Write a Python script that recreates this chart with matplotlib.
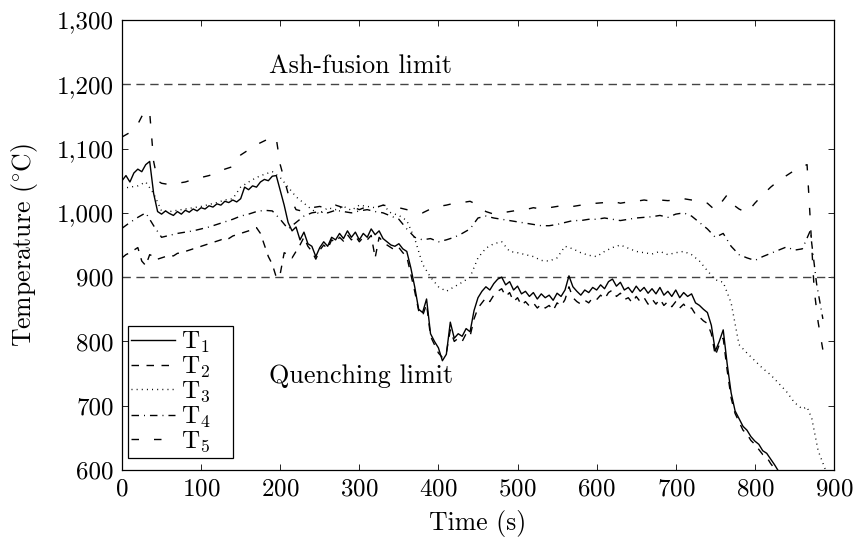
import numpy as np
import matplotlib
matplotlib.use("Agg")
from matplotlib import pyplot as plt
from matplotlib.ticker import FuncFormatter, MultipleLocator

plt.rcParams['font.family'] = ['cmr10', 'DejaVu Serif']
plt.rcParams['mathtext.fontset'] = 'cm'
plt.rcParams['axes.unicode_minus'] = False
plt.rcParams['axes.formatter.use_mathtext'] = True

# time grid for T1 / T2 (s)
t12 = np.arange(0, 840, 5)

T1 = [1050, 1058, 1048, 1062, 1068, 1064, 1075, 1080, 1030, 1002,
      998, 1003, 999, 996, 1002, 998, 1004, 1001, 1006, 1003,
      1008, 1006, 1011, 1009, 1014, 1012, 1018, 1016, 1020, 1017,
      1022, 1040, 1036, 1042, 1040, 1048, 1052, 1050, 1057, 1058,
      1035, 1012, 985, 972, 978, 958, 970, 952, 948, 932,
      946, 955, 948, 962, 958, 968, 960, 972, 962, 970,
      958, 968, 962, 975, 966, 972, 960, 955, 950, 948,
      952, 944, 940, 915, 885, 850, 845, 866, 812, 800,
      790, 770, 780, 830, 805, 812, 808, 820, 815, 848,
      868, 878, 885, 880, 890, 897, 900, 888, 893, 880,
      886, 874, 878, 870, 876, 866, 874, 868, 872, 864,
      875, 870, 880, 902, 885, 878, 872, 880, 876, 884,
      880, 888, 882, 893, 897, 886, 892, 880, 884, 876,
      886, 878, 884, 875, 882, 874, 884, 872, 878, 870,
      880, 868, 876, 870, 874, 860, 856, 850, 845, 825,
      785, 800, 818, 765, 720, 692, 680, 668, 662, 652,
      645, 640, 630, 626, 617, 608, 598, 590]

T2 = [930, 935, 938, 942, 946, 925, 918, 935, 932, 928,
      930, 932, 934, 933, 937, 938, 940, 942, 944, 945,
      948, 950, 952, 954, 956, 958, 962, 960, 964, 966,
      968, 970, 972, 975, 977, 968, 950, 932, 920, 900,
      905, 938, 935, 930, 940, 950, 962, 948, 940, 928,
      942, 950, 944, 958, 954, 962, 956, 966, 958, 964,
      955, 962, 958, 965, 930, 962, 955, 950, 946, 942,
      946, 938, 932, 905, 878, 848, 840, 858, 808, 795,
      782, 775, 782, 818, 800, 805, 800, 812, 808, 835,
      852, 860, 868, 862, 872, 878, 882, 870, 876, 862,
      868, 856, 862, 855, 860, 852, 858, 852, 856, 848,
      860, 855, 865, 885, 868, 862, 858, 864, 860, 868,
      865, 872, 866, 876, 880, 870, 875, 865, 868, 860,
      870, 862, 868, 858, 866, 858, 866, 856, 862, 854,
      862, 852, 858, 850, 852, 842, 838, 832, 828, 812,
      778, 795, 805, 755, 712, 688, 675, 662, 656, 646,
      640, 632, 624, 620, 610, 602, 592, 585]

t3 = [0, 10, 20, 30, 40, 50, 60, 70, 80, 90, 100, 110, 120, 130, 140,
      150, 160, 170, 180, 190, 200, 210, 220, 230, 240, 250, 260, 270,
      280, 290, 300, 310, 320, 330, 340, 350, 360, 370, 380, 390, 400,
      410, 420, 430, 440, 450, 460, 470, 480, 490, 500, 510, 520, 530,
      540, 550, 560, 570, 580, 590, 600, 610, 620, 630, 640, 650, 660,
      670, 680, 690, 700, 710, 720, 730, 740, 750, 760, 770, 780, 790,
      800, 810, 820, 830, 840, 850, 860, 866, 872, 880, 890]
T3 = [1038, 1040, 1042, 1048, 1030, 1003, 1002, 1004, 1006, 1008, 1010,
      1013, 1016, 1020, 1022, 1040, 1048, 1055, 1060, 1064, 1055, 1040,
      1025, 1015, 1005, 998, 1008, 1005, 1010, 1004, 1012, 1010, 1008,
      1012, 1000, 996, 988, 960, 920, 900, 885, 878, 885, 892, 900, 930,
      945, 952, 955, 940, 938, 935, 932, 926, 925, 930, 948, 944, 938,
      934, 932, 940, 946, 950, 945, 940, 938, 936, 940, 935, 938, 940,
      935, 925, 910, 896, 892, 860, 795, 782, 770, 758, 748, 735, 722,
      705, 695, 698, 680, 630, 598]

t4 = [0, 10, 20, 30, 40, 50, 60, 70, 80, 90, 100, 110, 120, 130, 140,
      150, 160, 170, 180, 190, 200, 210, 220, 230, 240, 250, 260, 270,
      280, 290, 300, 310, 320, 330, 340, 350, 360, 370, 380, 390, 400,
      410, 420, 430, 440, 450, 460, 470, 480, 490, 500, 510, 520, 530,
      540, 550, 560, 570, 580, 590, 600, 610, 620, 630, 640, 650, 660,
      670, 680, 690, 700, 710, 720, 730, 740, 750, 760, 770, 780, 790,
      800, 810, 820, 830, 840, 850, 860, 870, 878, 886]
T4 = [976, 985, 993, 1000, 980, 962, 965, 968, 970, 972, 975, 978, 982,
      986, 990, 995, 998, 1002, 1004, 1003, 990, 975, 985, 995, 1000,
      1002, 1000, 1004, 1002, 1000, 1003, 1005, 1002, 1000, 995, 990,
      975, 962, 958, 960, 955, 958, 962, 968, 975, 992, 995, 992, 990,
      988, 986, 984, 982, 980, 980, 982, 985, 988, 988, 990, 990, 992,
      990, 988, 990, 992, 993, 994, 996, 993, 998, 1000, 995, 985, 975,
      962, 968, 948, 935, 930, 926, 932, 937, 942, 947, 942, 944, 972,
      890, 835]

t5 = [0, 10, 20, 25, 30, 35, 40, 45, 50, 60, 70, 80, 90, 100, 110, 120,
      130, 140, 150, 160, 170, 180, 190, 195, 200, 210, 220, 230, 240,
      250, 260, 270, 280, 290, 300, 310, 320, 330, 340, 350, 360, 370,
      380, 390, 400, 410, 420, 430, 440, 450, 460, 470, 480, 490, 500,
      510, 520, 530, 540, 550, 560, 570, 580, 590, 600, 610, 620, 630,
      640, 650, 660, 670, 680, 690, 700, 710, 720, 730, 740, 750, 760,
      765, 770, 780, 790, 800, 810, 820, 830, 840, 850, 860, 866, 870,
      875, 880, 889]
T5 = [1118, 1125, 1138, 1150, 1160, 1156, 1080, 1050, 1046, 1044, 1046,
      1048, 1052, 1055, 1058, 1062, 1068, 1072, 1090, 1098, 1106, 1112,
      1118, 1116, 1075, 1030, 1005, 1002, 1008, 1010, 1006, 1012, 1008,
      1010, 1005, 1010, 1008, 1012, 1010, 1008, 1005, 1002, 1000, 1006,
      1010, 1012, 1015, 1016, 1018, 1012, 1002, 998, 1000, 1002, 1004,
      1005, 1008, 1006, 1008, 1010, 1012, 1010, 1012, 1014, 1015, 1016,
      1018, 1015, 1017, 1018, 1020, 1018, 1020, 1019, 1020, 1022, 1020,
      1018, 1015, 1004, 1020, 1028, 1015, 1006, 1000, 1015, 1028, 1040,
      1050, 1058, 1066, 1072, 1075, 990, 880, 830, 765]

ash_limit = 1200
quench_limit = 900

fig, ax = plt.subplots(figsize=(8.61, 5.43), dpi=100)
fig.subplots_adjust(left=0.1417, right=0.9686, top=0.9632, bottom=0.1344)

lw = 1.0
ax.axhline(ash_limit, color='#444444', lw=1.0, dashes=(6, 4))
ax.axhline(quench_limit, color='#444444', lw=1.0, dashes=(6, 4))

pad = '   '
ax.plot(t12, T1, color='black', lw=lw, label=r'T$_1$' + pad)
ax.plot(t12, T2, color='black', lw=lw, dashes=(5.4, 5.4), label=r'T$_2$' + pad)
ax.plot(t3, T3, color='black', lw=lw, dashes=(0.7, 3.0), label=r'T$_3$' + pad)
ax.plot(t4, T4, color='black', lw=lw, dashes=(5.4, 3.6, 0.7, 3.6), label=r'T$_4$' + pad)
ax.plot(t5, T5, color='black', lw=lw, dashes=(5.4, 10.8), label=r'T$_5$' + pad)

ax.text(302, 1228, 'Ash-fusion limit', ha='center', va='center', fontsize=18.8)
ax.text(302, 746, 'Quenching limit', ha='center', va='center', fontsize=18.8)

ax.set_xlim(0, 900)
ax.set_ylim(600, 1300)
ax.xaxis.set_major_locator(MultipleLocator(100))
ax.yaxis.set_major_locator(MultipleLocator(100))
ax.yaxis.set_major_formatter(FuncFormatter(lambda v, p: f"{int(v):,}"))
ax.tick_params(direction='in', length=4, width=0.6, top=True, right=True,
               labelsize=18, pad=6)
for s in ax.spines.values():
    s.set_linewidth(0.9)

ax.set_xlabel('Time (s)', fontsize=18.5, labelpad=7)
ax.set_ylabel('Temperature ' + r'$(^{\circ}\mathrm{C})$', fontsize=18.5, labelpad=12)

leg = ax.legend(loc='lower left', bbox_to_anchor=(0.008, 0.027), fontsize=18,
                frameon=True, fancybox=False, edgecolor='black', framealpha=1,
                handlelength=1.75, handletextpad=0.25, labelspacing=0.0,
                borderpad=0.15, borderaxespad=0)
leg.get_frame().set_linewidth(0.9)

fig.savefig('out.png', dpi=100)
